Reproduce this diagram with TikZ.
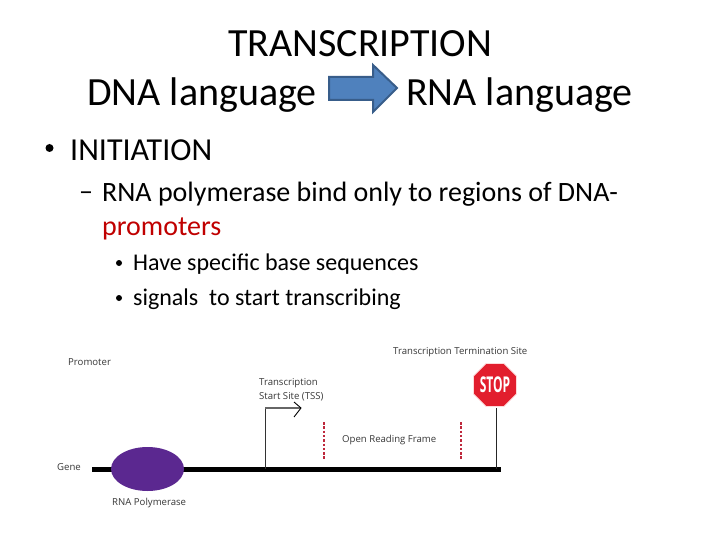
\documentclass[tikz,border=0pt]{standalone}
\usepackage{fontspec}
\setmainfont{Carlito}
\newfontfamily\figfont{Open Sans}
\usetikzlibrary{shapes.geometric}
\definecolor{arrowfill}{RGB}{79,129,189}
\definecolor{arrowline}{RGB}{56,93,138}
\definecolor{polyfill}{RGB}{91,40,144}
\definecolor{stopred}{RGB}{226,30,45}
\definecolor{dashred}{RGB}{190,40,60}
\definecolor{figtext}{RGB}{55,55,55}
\begin{document}
\begin{tikzpicture}[x=1pt,y=-1pt,
  txt/.style={inner sep=0pt,anchor=base west,text=black},
  title/.style={txt,font=\fontsize{40}{40}\selectfont},
  lvlone/.style={txt,font=\fontsize{32}{32}\selectfont},
  lvltwo/.style={txt,font=\fontsize{28}{28}\selectfont},
  lvlthree/.style={txt,font=\fontsize{24}{24}\selectfont},
  bul/.style={inner sep=0pt,circle,fill=black},
  figlabel/.style={inner sep=0pt,anchor=base west,text=figtext,font=\figfont\fontsize{9.6}{9.6}\selectfont},
  orfdash/.style={dashred,line width=1.6pt,dash pattern=on 2.5pt off 1.8pt}]
\useasboundingbox (0,0) rectangle (720,540);
\fill[white] (0,0) rectangle (720,540);
\node[title] (t1) at (228,56.5) {TRANSCRIPTION};
\node[title] (t2) at (87,105.5) {DNA language};
\node[title] (t3) at (406,105.5) {RNA language};
\draw[fill=arrowfill,draw=arrowline,line width=2pt,line join=miter]
  (329,77) -- (373,77) -- (373,65) -- (397,88) -- (373,112) -- (373,100) -- (329,100) -- cycle;
\node[bul,minimum size=8pt] (b1) at (49.5,148) {};
\node[lvlone] (l1) at (70,161) {INITIATION};
\node[lvltwo] (d1) at (79,201) {–};
\node[lvltwo] (l2) at (102,201.5) {RNA polymerase bind only to regions of DNA-};
\node[lvltwo,text={rgb,255:red,192;green,0;blue,0}] (l3) at (102,236) {promoters};
\node[bul,minimum size=6pt] (b2) at (119,263) {};
\node[lvlthree] (l4) at (133,270.5) {Have specific base sequences};
\node[bul,minimum size=6pt] (b3) at (119,298) {};
\node[lvlthree] (l5) at (133,305.5) {signals\ \ to start transcribing};

\node[figlabel] (promoter) at (68,365) {Promoter};
\node[figlabel] (gene) at (57,470) {Gene};
\node[figlabel] (rnap) at (112,505) {RNA Polymerase};
\node[figlabel] (tss1) at (259,385) {Transcription};
\node[figlabel] (tss2) at (259,399) {Start Site (TSS)};
\node[figlabel] (orf) at (342,442) {Open Reading Frame};
\node[figlabel] (tts) at (393,354) {Transcription Termination Site};

\coordinate (gs) at (92,469);
\coordinate (ge) at (501,469);
\draw[black,line width=5pt] (gs) -- (ge);
\node[ellipse,fill=polyfill,minimum width=73pt,minimum height=44pt,inner sep=0pt] (poly) at (147.5,469) {};

\coordinate (tb) at (265,469);
\coordinate (tc) at (265,408);
\coordinate (tt) at (301,408);
\draw[black!80,line width=0.9pt] (tb) -- (tc);
\draw[black!60,line width=1.4pt] (tc) -- (tt);
\draw[black,line width=0.9pt] (294,402) -- (tt) -- (294,417);

\coordinate (o1a) at (324,422); \coordinate (o1b) at (324,460);
\coordinate (o2a) at (461,422); \coordinate (o2b) at (461,460);
\draw[orfdash] (o1a) -- (o1b);
\draw[orfdash] (o2a) -- (o2b);

\node[regular polygon,regular polygon sides=8,fill=stopred,draw=white!85!red,line width=0.6pt,minimum size=46pt,inner sep=0pt,text=white,font=\figfont\bfseries\fontsize{15}{15}\selectfont] (stop) at (495,385) {\scalebox{0.8}[1.45]{STOP}};
\coordinate (pt) at (496,408);
\coordinate (pb) at (496,469);
\draw[black!85,line width=0.9pt] (pt) -- (pb);
\end{tikzpicture}
\end{document}
